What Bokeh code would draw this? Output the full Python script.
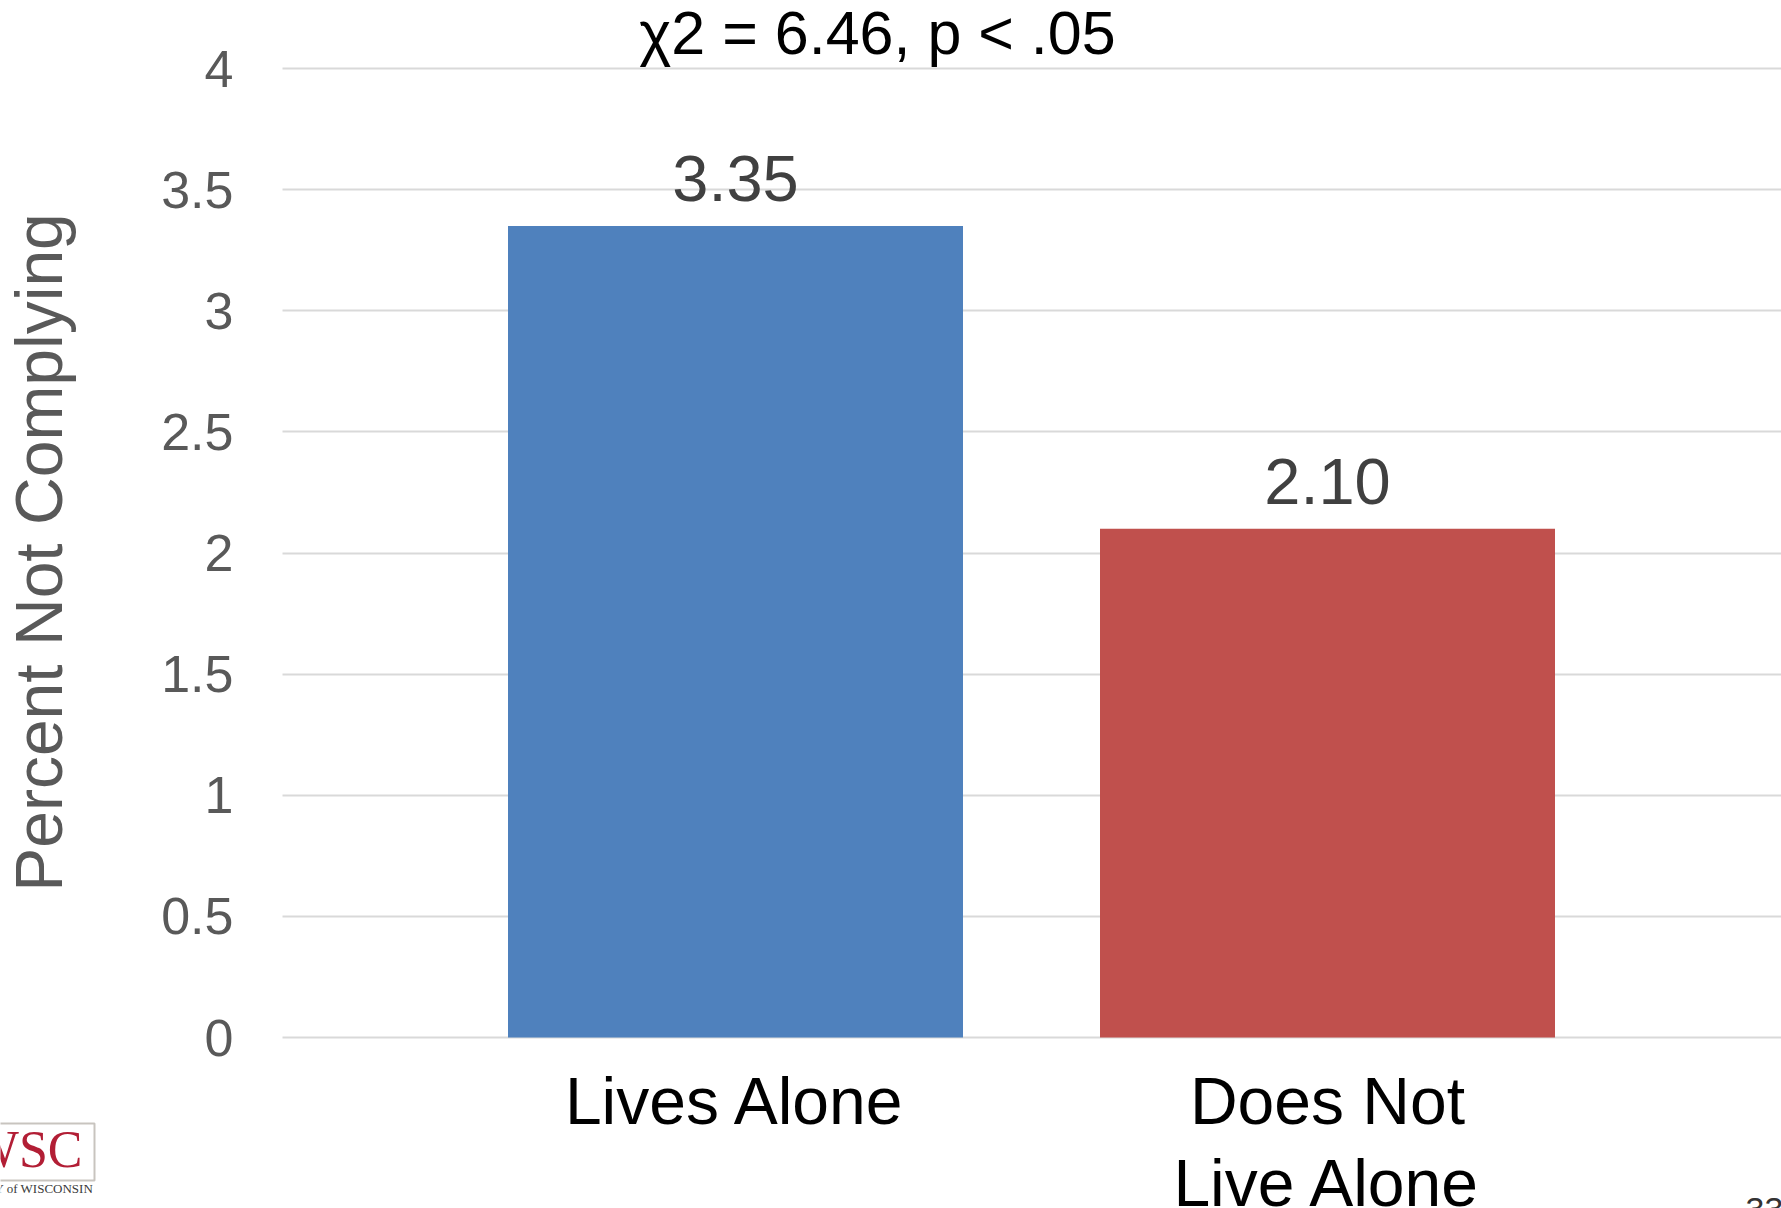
import math
from bokeh.plotting import figure
from bokeh.models import ColumnDataSource, Range1d, FixedTicker, LabelSet, BoxAnnotation
from bokeh.core.properties import value
from bokeh.embed import file_html
from bokeh.resources import INLINE

# ---- data ----
categories = ["Lives Alone", "Does Not\nLive Alone"]
values = [3.35, 2.10]
value_labels = ["3.35", "2.10"]
bar_colors = ["#4F81BD", "#C0504D"]
y_ticks = [0, 0.5, 1, 1.5, 2, 2.5, 3, 3.5, 4]
y_tick_labels = ["0", "0.5", "1", "1.5", "2", "2.5", "3", "3.5", "4"]
title_text = "\u03c72 = 6.46, p < .05"
y_label = "Percent Not Complying"

# ---- layout constants (page pixels) ----
W, H = 1781, 1208
CAT0 = 735          # page x of first category centre
STEP = 592          # px between categories
Y0_PX = 1037        # page y of value 0
UNIT_PX = 242.25    # px per 1 unit of value
GRID_LEFT = 282     # page x where gridlines start
LINE_GAP = 82       # px between lines of a category label

x_pos = [i + 1 for i in range(len(categories))]


def px_x(px):
    return 1 + (px - CAT0) / STEP


def px_y(py):
    return (Y0_PX - py) / UNIT_PX


X_START, X_END = px_x(0), px_x(W)
Y_START, Y_END = px_y(H), px_y(0)

FONT = "Liberation Sans"

p = figure(width=W, height=H, output_backend="svg", toolbar_location=None,
           x_range=Range1d(X_START, X_END), y_range=Range1d(Y_START, Y_END),
           min_border=0)
p.outline_line_color = None
p.background_fill_color = "white"
p.border_fill_color = "white"

p.xaxis.visible = False
p.yaxis.visible = False
p.xgrid.grid_line_color = None
p.yaxis.ticker = FixedTicker(ticks=y_ticks)
p.ygrid.ticker = FixedTicker(ticks=y_ticks)
p.ygrid.grid_line_color = "#D9D9D9"
p.ygrid.grid_line_width = 2
p.ygrid.cross_bounds = (px_x(GRID_LEFT), X_END)

cat_lines = [c.split("\n") for c in categories]
src = ColumnDataSource(dict(x=x_pos, top=values, color=bar_colors, label=value_labels,
                            line1=[ls[0] for ls in cat_lines],
                            line2=[ls[1] if len(ls) > 1 else "" for ls in cat_lines],
                            base=[0] * len(values)))
p.vbar(x="x", top="top", bottom=0, width=455 / STEP, color="color", line_color=None, source=src)


def text_set(source, x, y, text, size, color, align="center", baseline="alphabetic",
             font=FONT, **kw):
    p.add_layout(LabelSet(x=x, y=y, text=text, source=source,
                          text_align=align, text_baseline=baseline,
                          text_font=value(font), text_font_size=value(size),
                          text_color=color, **kw))


def single(x, y, text):
    return ColumnDataSource(dict(x=[x], y=[y], text=[text]))


# value labels above bars
text_set(src, "x", "top", "label", "65px", "#404040", y_offset=25)

# category labels under the bars (each line centred)
text_set(src, "x", "base", "line1", "66px", "black", baseline="top", y_offset=-26)
text_set(src, "x", "base", "line2", "66px", "black", baseline="top",
         y_offset=-26 - LINE_GAP)

# y tick labels
tick_src = ColumnDataSource(dict(y=y_ticks, text=y_tick_labels,
                                 x=[px_x(233)] * len(y_ticks)))
text_set(tick_src, "x", "y", "text", "52px", "#595959", align="right", baseline="middle")

# y axis title
text_set(single(px_x(61), px_y(552), y_label), "x", "y", "text", "66px", "#595959",
         angle=math.pi / 2)

# chart title
text_set(single(px_x(877), px_y(53), title_text), "x", "y", "text", "61px", "black")

# logo fragment (bottom-left) and slide number (bottom-right)
p.add_layout(BoxAnnotation(left=px_x(-20), right=px_x(94), top=px_y(1123), bottom=px_y(1180),
                           fill_alpha=0, line_color="#4a3a2a", line_width=2))
text_set(single(px_x(82), px_y(1166), "UWSC"), "x", "y", "text", "52px", "#B21E35",
         align="right", font="Liberation Serif")
text_set(single(px_x(93), px_y(1192), "UNIVERSITY of WISCONSIN"), "x", "y", "text", "13px",
         "#3a3a3a", align="right", font="Liberation Serif")
text_set(single(px_x(1745), px_y(1197), "33"), "x", "y", "text", "34px", "#333333",
         align="left", baseline="top")

open("out.html", "w").write(file_html(p, INLINE))
